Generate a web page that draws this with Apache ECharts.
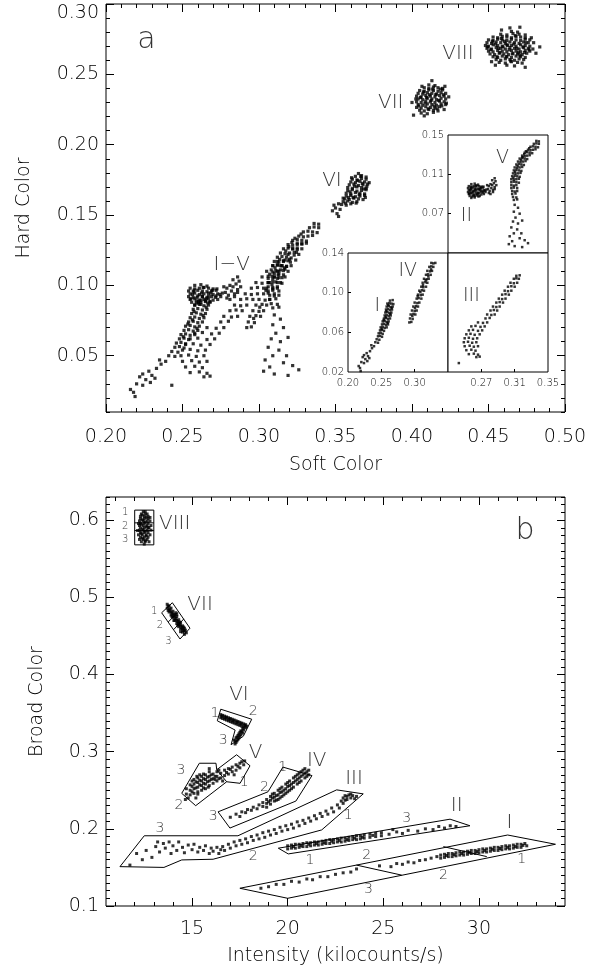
<!DOCTYPE html>
<html>
<head>
<meta charset="utf-8">
<script src="https://cdn.jsdelivr.net/npm/echarts@6/dist/echarts.min.js"></script>
<style>
  html, body { margin: 0; padding: 0; background: #fff; }
  #chart { width: 603px; height: 974px; }
</style>
</head>
<body>
<div id="chart"></div>
<script>
// ---------- panel a: hard colour vs soft colour, one list per state ----------
const aI = [
[0.263,0.092],[0.267,0.0925],
[0.259,0.089],[0.262,0.0895],[0.265,0.089],[0.268,0.0885],
[0.258,0.086],[0.261,0.0865],[0.264,0.0855],[0.267,0.086],
[0.257,0.083],[0.260,0.0835],[0.263,0.0825],[0.266,0.083],
[0.256,0.080],[0.259,0.0805],[0.262,0.0795],[0.265,0.080],
[0.255,0.077],[0.258,0.0775],[0.261,0.0765],[0.264,0.077],
[0.254,0.074],[0.257,0.0745],[0.260,0.0735],[0.263,0.074],
[0.252,0.071],[0.255,0.0715],[0.258,0.0705],[0.261,0.071],
[0.251,0.068],[0.254,0.0685],[0.257,0.0675],[0.260,0.068],
[0.249,0.065],[0.252,0.0655],[0.255,0.0645],[0.258,0.065],
[0.248,0.062],[0.251,0.0625],[0.254,0.0615],
[0.246,0.059],[0.249,0.0595],[0.252,0.0585],
[0.245,0.056],[0.248,0.0565],[0.251,0.0555],
[0.243,0.053],[0.247,0.0525],[0.241,0.050],[0.245,0.0495],
[0.2605,0.0875],[0.2575,0.0815],[0.2635,0.0785],[0.2535,0.0725],[0.2595,0.0695],[0.2505,0.0635],[0.2655,0.0845],[0.2565,0.0755],
[0.239,0.046],[0.236,0.044],[0.233,0.041],[0.235,0.047],[0.230,0.036],[0.228,0.039],[0.226,0.033],[0.224,0.029],
[0.222,0.035],[0.220,0.030],[0.218,0.024],[0.216,0.026],[0.219,0.021],[0.224,0.037],[0.229,0.031],[0.232,0.034]
];
const aII = [
[0.258,0.100],[0.262,0.1005],[0.266,0.0995],
[0.255,0.098],[0.258,0.0975],[0.261,0.098],[0.264,0.0985],[0.267,0.098],[0.270,0.0975],
[0.254,0.096],[0.257,0.0955],[0.260,0.0965],[0.263,0.096],[0.266,0.0955],[0.269,0.096],[0.272,0.0965],
[0.255,0.094],[0.258,0.0945],[0.261,0.0935],[0.264,0.094],[0.267,0.0945],[0.270,0.0935],[0.273,0.094],[0.276,0.0945],
[0.254,0.092],[0.257,0.0915],[0.260,0.0925],[0.263,0.092],[0.266,0.0915],[0.269,0.092],[0.272,0.0925],[0.275,0.092],
[0.255,0.090],[0.258,0.0905],[0.261,0.0895],[0.264,0.090],[0.267,0.0905],[0.270,0.0895],[0.273,0.090],
[0.256,0.088],[0.259,0.0875],[0.262,0.088],[0.265,0.0885],[0.268,0.088],
[0.258,0.086],[0.262,0.0865],
[0.2565,0.0935],[0.2595,0.0915],[0.2625,0.0945],[0.2655,0.0905],[0.2685,0.0945],[0.2715,0.0915],[0.2575,0.0965],
[0.2635,0.0985],[0.2695,0.0965],[0.2605,0.0885],[0.2665,0.0875],[0.2745,0.0935],[0.2555,0.0905],[0.2725,0.0975],
[0.278,0.095],[0.279,0.098],[0.280,0.093],[0.281,0.100],[0.282,0.096],[0.283,0.099],[0.284,0.094],[0.285,0.101],
[0.286,0.097],[0.287,0.103],[0.288,0.099],[0.281,0.090],[0.284,0.092],[0.286,0.095],[0.277,0.099],[0.279,0.091],
[0.283,0.104],[0.286,0.106]
];
const aIII = [
[0.243,0.029],
[0.266,0.070],[0.272,0.0695],[0.277,0.070],
[0.258,0.066],[0.263,0.0665],[0.269,0.0655],[0.274,0.066],
[0.255,0.062],[0.260,0.0625],[0.266,0.0615],[0.271,0.062],
[0.252,0.058],[0.257,0.0585],[0.262,0.0575],[0.268,0.058],
[0.250,0.054],[0.255,0.0545],[0.260,0.0535],[0.265,0.054],
[0.249,0.050],[0.254,0.0505],[0.259,0.0495],[0.264,0.050],
[0.250,0.046],[0.256,0.0465],[0.261,0.0455],[0.266,0.046],
[0.252,0.042],[0.258,0.0425],[0.263,0.0415],
[0.255,0.038],[0.261,0.0385],[0.266,0.0375],
[0.264,0.035],[0.268,0.0355],
[0.275,0.074],[0.280,0.0745],
[0.277,0.078],[0.282,0.0775],[0.286,0.078],
[0.281,0.082],[0.285,0.0825],[0.289,0.082],
[0.284,0.086],[0.288,0.0855],[0.292,0.086],
[0.288,0.090],[0.292,0.0905],[0.296,0.090],
[0.291,0.094],[0.295,0.0935],[0.299,0.094],
[0.295,0.098],[0.299,0.0985],[0.303,0.098],
[0.298,0.102],[0.302,0.1015],[0.306,0.102],
[0.302,0.106],[0.306,0.1065],[0.310,0.106],
[0.305,0.110],[0.309,0.1095],[0.313,0.110],
[0.309,0.114],[0.312,0.1145],[0.315,0.114],
[0.312,0.117],[0.316,0.1175]
];
const aIV = [
[0.292,0.070],[0.295,0.0705],
[0.293,0.074],[0.297,0.0735],
[0.294,0.078],[0.298,0.0785],[0.301,0.078],
[0.296,0.082],[0.300,0.0815],[0.303,0.082],
[0.298,0.086],[0.302,0.0865],[0.305,0.086],
[0.300,0.090],[0.304,0.0895],[0.307,0.090],
[0.303,0.094],[0.306,0.0945],[0.310,0.094],
[0.305,0.098],[0.309,0.0975],[0.312,0.098],
[0.307,0.102],[0.311,0.1025],[0.314,0.102],
[0.310,0.106],[0.313,0.1055],[0.317,0.106],
[0.312,0.110],[0.316,0.1105],[0.319,0.110],
[0.314,0.114],[0.318,0.1135],[0.321,0.114],
[0.317,0.118],[0.320,0.1185],[0.324,0.118],
[0.319,0.122],[0.323,0.1215],[0.326,0.122],
[0.322,0.126],[0.325,0.1265],[0.328,0.126],
[0.325,0.130],[0.328,0.1295],[0.331,0.130],
[0.3045,0.0965],[0.3085,0.1005],[0.3125,0.1075],[0.3165,0.1125],[0.3205,0.1165],[0.3245,0.1235],[0.3005,0.0845],[0.2965,0.0765]
];
const aV = [
[0.336,0.144],[0.339,0.1435],
[0.333,0.141],[0.336,0.1415],[0.339,0.141],
[0.329,0.138],[0.332,0.1385],[0.335,0.138],[0.338,0.1375],
[0.326,0.135],[0.329,0.1345],[0.332,0.135],[0.335,0.1355],
[0.322,0.132],[0.325,0.1325],[0.328,0.132],[0.331,0.1315],
[0.319,0.129],[0.322,0.1285],[0.325,0.129],[0.328,0.1295],
[0.316,0.126],[0.319,0.1265],[0.322,0.126],[0.325,0.1255],
[0.314,0.123],[0.317,0.1225],[0.320,0.123],[0.323,0.1235],
[0.312,0.120],[0.315,0.1205],[0.318,0.120],[0.321,0.1195],
[0.310,0.117],[0.313,0.1165],[0.316,0.117],[0.319,0.1175],
[0.309,0.114],[0.312,0.1145],[0.315,0.114],[0.318,0.1135],
[0.308,0.111],[0.311,0.1105],[0.314,0.111],[0.317,0.1115],
[0.307,0.108],[0.310,0.1085],[0.313,0.108],[0.316,0.1075],
[0.306,0.105],[0.309,0.1045],[0.312,0.105],[0.315,0.1055],
[0.306,0.102],[0.309,0.1025],[0.312,0.102],[0.315,0.1015],
[0.306,0.099],[0.309,0.0985],[0.312,0.099],
[0.306,0.096],[0.309,0.0965],[0.313,0.096],
[0.307,0.093],[0.310,0.0925],[0.313,0.093],
[0.307,0.090],[0.311,0.0905],
[0.308,0.087],[0.312,0.0865],
[0.3275,0.1365],[0.3215,0.1305],[0.3175,0.1245],[0.3135,0.1185],[0.3105,0.1125],[0.3085,0.1065],[0.3235,0.1335],[0.3195,0.1275],
[0.309,0.084],[0.313,0.0845],[0.310,0.079],[0.314,0.076],[0.309,0.072],[0.316,0.070],[0.311,0.066],[0.308,0.062],
[0.314,0.060],[0.319,0.063],[0.306,0.056],[0.313,0.054],[0.318,0.050],[0.309,0.050],[0.304,0.047],[0.316,0.045],
[0.322,0.043],[0.307,0.042],[0.303,0.039],[0.326,0.040],[0.310,0.037],[0.319,0.036]
];
const aVI = [
[0.365,0.1795],
[0.363,0.1775],[0.367,0.178],[0.370,0.177],
[0.361,0.1755],[0.364,0.175],[0.367,0.176],[0.370,0.1755],
[0.360,0.1735],[0.363,0.173],[0.366,0.174],[0.369,0.1735],[0.372,0.173],
[0.359,0.1715],[0.362,0.172],[0.365,0.171],[0.368,0.1715],[0.371,0.172],
[0.358,0.1695],[0.361,0.169],[0.364,0.170],[0.367,0.1695],[0.370,0.169],
[0.358,0.1675],[0.361,0.168],[0.364,0.167],[0.367,0.1675],[0.370,0.168],
[0.357,0.1655],[0.360,0.165],[0.363,0.166],[0.366,0.1655],[0.369,0.165],
[0.357,0.1635],[0.360,0.164],[0.363,0.163],[0.366,0.1635],[0.369,0.164],
[0.356,0.1615],[0.359,0.161],[0.362,0.162],[0.365,0.1615],[0.368,0.161],
[0.355,0.1595],[0.358,0.160],[0.361,0.159],[0.364,0.1595],
[0.354,0.1575],[0.357,0.157],[0.360,0.158],
[0.3595,0.1665],[0.3625,0.1705],[0.3655,0.1645],[0.3685,0.1685],[0.3615,0.1625],[0.3645,0.1745],[0.3675,0.1725],
[0.3705,0.1705],[0.3585,0.1625],[0.3565,0.1585],[0.3635,0.1585],[0.3695,0.1625],[0.3665,0.1775],[0.3605,0.1765],
[0.352,0.158],[0.350,0.155],[0.351,0.151],[0.348,0.153],[0.349,0.157],[0.353,0.154],[0.352,0.149],[0.355,0.162]
];
const aVII = [
[0.411,0.2425],[0.415,0.242],
[0.408,0.2405],[0.411,0.240],[0.414,0.241],[0.417,0.2405],[0.420,0.240],
[0.405,0.2385],[0.408,0.238],[0.411,0.239],[0.414,0.2385],[0.417,0.238],[0.420,0.239],
[0.404,0.2365],[0.407,0.236],[0.410,0.237],[0.413,0.2365],[0.416,0.236],[0.419,0.237],[0.422,0.2365],
[0.403,0.2345],[0.406,0.234],[0.409,0.235],[0.412,0.2345],[0.415,0.234],[0.418,0.235],[0.421,0.2345],
[0.404,0.2325],[0.407,0.232],[0.410,0.233],[0.413,0.2325],[0.416,0.232],[0.419,0.233],[0.422,0.2325],
[0.403,0.2305],[0.406,0.230],[0.409,0.231],[0.412,0.2305],[0.415,0.230],[0.418,0.231],[0.421,0.2305],
[0.404,0.2285],[0.407,0.228],[0.410,0.229],[0.413,0.2285],[0.416,0.228],[0.419,0.229],[0.422,0.2285],
[0.403,0.2265],[0.406,0.226],[0.409,0.227],[0.412,0.2265],[0.415,0.226],[0.418,0.227],
[0.405,0.2245],[0.408,0.224],[0.411,0.225],[0.414,0.2245],[0.417,0.224],
[0.406,0.2225],[0.410,0.222],[0.414,0.223],
[0.4055,0.2335],[0.4085,0.2295],[0.4115,0.2355],[0.4145,0.2275],[0.4175,0.2315],[0.4205,0.2355],[0.4075,0.2375],
[0.4135,0.2395],[0.4195,0.2275],[0.4045,0.2275],[0.4105,0.2255],[0.4165,0.2255],[0.4125,0.2315],[0.4155,0.2355],
[0.4095,0.2335],[0.4185,0.2395],[0.4225,0.2295],[0.4025,0.2325],[0.4215,0.2415],[0.4065,0.2415],
[0.401,0.221],[0.413,0.2455],[0.424,0.234],[0.400,0.230],[0.421,0.225],[0.408,0.2205]
];
const aVIII = [
[0.465,0.2805],[0.469,0.280],
[0.458,0.2785],[0.462,0.278],[0.466,0.279],[0.470,0.2785],[0.474,0.278],
[0.453,0.2765],[0.456,0.276],[0.459,0.277],[0.462,0.2765],[0.465,0.276],[0.468,0.277],[0.471,0.2765],[0.474,0.276],
[0.450,0.2745],[0.453,0.274],[0.456,0.275],[0.459,0.2745],[0.462,0.274],[0.465,0.275],[0.468,0.2745],[0.471,0.274],[0.474,0.275],[0.477,0.2745],
[0.449,0.2725],[0.452,0.272],[0.455,0.273],[0.458,0.2725],[0.461,0.272],[0.464,0.273],[0.467,0.2725],[0.470,0.272],[0.473,0.273],[0.476,0.2725],
[0.448,0.2705],[0.450,0.270],[0.453,0.271],[0.456,0.2705],[0.459,0.270],[0.462,0.271],[0.465,0.2705],[0.468,0.270],[0.471,0.271],[0.474,0.2705],[0.477,0.270],
[0.449,0.2685],[0.452,0.268],[0.455,0.269],[0.458,0.2685],[0.461,0.268],[0.464,0.269],[0.467,0.2685],[0.470,0.268],[0.473,0.269],[0.476,0.2685],[0.479,0.268],
[0.450,0.2665],[0.453,0.266],[0.456,0.267],[0.459,0.2665],[0.462,0.266],[0.465,0.267],[0.468,0.2665],[0.471,0.266],[0.474,0.267],[0.477,0.2665],
[0.451,0.2645],[0.454,0.264],[0.457,0.265],[0.460,0.2645],[0.463,0.264],[0.466,0.265],[0.469,0.2645],[0.472,0.264],[0.475,0.265],
[0.453,0.2625],[0.456,0.262],[0.459,0.263],[0.462,0.2625],[0.465,0.262],[0.468,0.263],[0.471,0.2625],[0.474,0.262],
[0.455,0.2605],[0.458,0.260],[0.461,0.261],[0.464,0.2605],[0.467,0.260],[0.470,0.261],[0.473,0.2605],
[0.457,0.2585],[0.461,0.258],[0.465,0.259],[0.469,0.2585],[0.472,0.258],
[0.462,0.2565],[0.467,0.256],
[0.4515,0.2675],[0.4545,0.2715],[0.4575,0.2655],[0.4605,0.2735],[0.4635,0.2675],[0.4665,0.2715],[0.4695,0.2655],
[0.4725,0.2695],[0.4555,0.2625],[0.4645,0.2595],[0.4705,0.2635],[0.4585,0.2755],[0.4675,0.2775],[0.4745,0.2725],
[0.4495,0.2695],[0.4525,0.2735],[0.4615,0.2625],[0.4765,0.2675],[0.4595,0.2695],[0.4685,0.2685],[0.4625,0.2705],
[0.4655,0.2645],[0.4565,0.2685],[0.4735,0.2655],[0.4795,0.2725],[0.4835,0.2695],[0.4585,0.2815],
[0.4705,0.2835],[0.4545,0.2565],
[0.481,0.265],[0.464,0.283],[0.474,0.255],[0.478,0.276],[0.452,0.259]
];

// ---------- panel b: broad colour vs intensity (kilocounts/s) ----------
const bI = [
[18.6,0.123],[19.0,0.125],[19.4,0.128],[19.8,0.128],[20.2,0.132],[20.6,0.131],[21.0,0.135],[21.3,0.134],[21.7,0.138],[22.1,0.138],
[22.5,0.141],[22.9,0.143],[23.3,0.144],[23.6,0.148],
[24.8,0.152],[25.4,0.151],[25.7,0.155],[26.0,0.154],[26.3,0.157],[26.6,0.156],[26.9,0.159],[27.2,0.160],[27.5,0.162],[27.8,0.164],
[28.0,0.162],[28.0,0.166],[28.2,0.163],[28.2,0.167],[28.4,0.164],[28.4,0.168],[28.6,0.164],[28.6,0.168],[28.8,0.165],[28.8,0.169],
[29.0,0.166],[29.0,0.170],[29.2,0.166],[29.2,0.170],[29.4,0.167],[29.4,0.171],[29.6,0.168],[29.6,0.172],[29.8,0.168],[29.8,0.172],
[30.0,0.169],[30.0,0.173],[30.2,0.170],[30.2,0.174],[30.4,0.170],[30.4,0.174],[30.6,0.171],[30.6,0.175],[30.8,0.172],[30.8,0.176],
[31.0,0.172],[31.0,0.176],[31.2,0.173],[31.2,0.177],[31.4,0.174],[31.4,0.178],[31.6,0.174],[31.6,0.178],[31.8,0.175],[31.8,0.179],
[32.0,0.176],[32.0,0.180],[32.2,0.176],[32.2,0.180],[32.5,0.178],[32.4,0.181],
[28.3,0.1655],[28.7,0.1665],[29.1,0.168],[29.5,0.1695],[29.9,0.1705],[30.3,0.172],[30.7,0.1735],[31.1,0.1745],[31.5,0.176],[31.9,0.177],[32.3,0.1785]
];
const bII = [
[20.0,0.174],[20.0,0.178],[20.2,0.175],[20.2,0.179],[20.4,0.175],[20.4,0.180],[20.6,0.176],[20.6,0.180],[20.8,0.177],[20.8,0.181],
[21.0,0.177],[21.0,0.182],[21.2,0.178],[21.2,0.182],[21.4,0.179],[21.4,0.183],[21.6,0.179],[21.6,0.183],[21.8,0.180],[21.8,0.184],
[22.0,0.181],[22.0,0.185],[22.2,0.181],[22.2,0.186],[22.4,0.182],[22.4,0.186],[22.6,0.183],[22.6,0.187],[22.8,0.183],[22.8,0.188],
[23.0,0.184],[23.0,0.188],[23.2,0.185],[23.2,0.189],[23.4,0.186],[23.4,0.190],[23.6,0.186],[23.6,0.191],[23.8,0.187],[23.8,0.191],
[24.0,0.188],[24.0,0.192],[24.3,0.189],[24.3,0.193],[24.6,0.190],[24.6,0.194],[24.9,0.191],[24.9,0.195],
[20.3,0.177],[20.7,0.178],[21.1,0.180],[21.5,0.181],[21.9,0.182],[22.3,0.184],[22.7,0.185],[23.1,0.186],[23.5,0.188],[23.9,0.189],[24.45,0.1915],
[25.3,0.193],[25.5,0.199],[25.7,0.196],[26.0,0.194],[26.3,0.198],[26.8,0.197],[27.2,0.200],[27.6,0.199],[27.9,0.203],[28.2,0.201],
[28.5,0.204],[28.8,0.203]
];
const bIII = [
[11.75,0.153],[12.1,0.168],[12.4,0.160],[12.6,0.172],[12.9,0.163],[13.1,0.177],[13.2,0.183],[13.3,0.170],[13.5,0.181],[13.6,0.175],
[13.8,0.183],[13.9,0.168],[14.0,0.178],[14.2,0.172],[14.3,0.183],[14.5,0.176],[14.6,0.169],[14.8,0.179],[15.0,0.173],[15.1,0.180],
[15.3,0.170],[15.4,0.176],[15.6,0.172],[15.7,0.178],[15.9,0.168],[16.0,0.175],[16.1,0.171],[16.3,0.176],[16.4,0.168],[16.5,0.173],
[16.6,0.177],[16.7,0.172],[16.9,0.180],[17.0,0.175],[17.2,0.183],[17.3,0.178],[17.5,0.185],[17.6,0.180],[17.8,0.187],[17.9,0.182],
[18.1,0.190],[18.2,0.185],[18.4,0.192],[18.5,0.187],[18.7,0.195],[18.8,0.189],[19.0,0.197],[19.1,0.192],[19.3,0.199],[19.4,0.194],
[19.6,0.202],[19.7,0.197],[19.9,0.204],[20.0,0.199],[20.2,0.206],[20.3,0.201],[20.5,0.209],
[20.6,0.204],[20.8,0.211],[20.9,0.207],[21.1,0.214],[21.2,0.210],[21.4,0.217],[21.5,0.213],[21.7,0.220],[21.8,0.216],[22.0,0.223],
[22.1,0.219],[22.3,0.227],[22.4,0.222],[22.6,0.231],[22.7,0.227],[22.8,0.236],[22.9,0.233],[22.9,0.240],[23.0,0.237],[23.1,0.242],
[23.1,0.238],[23.2,0.244],[23.3,0.240],[23.4,0.243],[23.5,0.239],[23.6,0.242],[23.3,0.245],[23.0,0.243]
];
const bIV = [
[17.0,0.215],[17.3,0.219],[17.5,0.216],[17.6,0.222],[17.8,0.221],[17.9,0.225],[18.1,0.224],[18.2,0.228],[18.4,0.226],[18.5,0.231],
[18.7,0.229],[18.7,0.234],[18.9,0.228],[18.9,0.233],[18.9,0.238],[19.1,0.232],[19.1,0.237],[19.1,0.242],[19.3,0.236],[19.3,0.241],
[19.3,0.246],[19.5,0.238],[19.5,0.244],[19.5,0.250],[19.7,0.242],[19.7,0.248],[19.7,0.254],[19.9,0.246],[19.9,0.252],[19.9,0.258],
[20.1,0.250],[20.1,0.256],[20.1,0.262],[20.3,0.254],[20.3,0.260],[20.3,0.266],[20.5,0.258],[20.5,0.264],[20.5,0.270],[20.7,0.262],
[20.7,0.268],[20.7,0.274],[20.9,0.266],[20.9,0.272],[20.9,0.278],[21.1,0.270],[21.1,0.276],
[19.2,0.240],[19.6,0.247],[20.0,0.255],[20.4,0.262],[20.8,0.270],[20.6,0.266],[20.2,0.258],[19.8,0.250],[19.4,0.243],
[19.0,0.235],[19.2,0.245],[19.4,0.237],[19.6,0.252],[19.8,0.244],[20.0,0.260],[20.2,0.252],[20.4,0.268],[20.6,0.260],[20.8,0.276],
[21.0,0.268],[21.0,0.274],[20.6,0.272],[20.0,0.248],[19.6,0.240]
];
const bV = [
[14.7,0.245],[14.7,0.252],[14.9,0.244],[14.9,0.250],[14.9,0.257],[15.1,0.246],[15.1,0.252],[15.1,0.258],[15.1,0.264],
[15.3,0.248],[15.3,0.254],[15.3,0.260],[15.3,0.266],[15.5,0.250],[15.5,0.256],[15.5,0.262],[15.5,0.268],
[15.7,0.252],[15.7,0.258],[15.7,0.264],[15.7,0.270],[15.9,0.256],[15.9,0.262],[15.9,0.268],[15.9,0.274],
[16.1,0.259],[16.1,0.265],[16.1,0.271],[16.3,0.262],[16.3,0.268],[16.3,0.274],[16.5,0.266],[16.5,0.272],
[16.7,0.269],[16.7,0.276],[16.9,0.271],[16.9,0.278],[17.1,0.274],[17.1,0.280],[17.3,0.276],[17.3,0.283],
[17.5,0.279],[17.5,0.285],[17.7,0.283],[17.75,0.288],
[15.0,0.248],[15.2,0.261],[15.4,0.257],[15.6,0.265],[15.8,0.261],[16.0,0.270],[16.2,0.264],[15.4,0.270],[15.6,0.253],[15.0,0.262],
[15.2,0.253],[15.4,0.263],[15.6,0.259],[15.8,0.267],[16.0,0.264],[16.2,0.268],[15.0,0.255],[15.3,0.245],[15.6,0.271],[15.9,0.278],
[16.4,0.276],[16.4,0.265],[16.8,0.273],[17.0,0.277],[17.4,0.281],[17.6,0.287],[15.25,0.268],[15.85,0.254],
[14.65,0.238],[14.8,0.240],[15.2,0.240],[16.6,0.262],[17.2,0.270]
];
const bVI = [
[16.5,0.348],[16.5,0.344],[16.6,0.347],[16.6,0.343],[16.7,0.346],[16.7,0.342],[16.8,0.345],[16.8,0.341],[16.9,0.344],[16.9,0.340],
[17.0,0.343],[17.0,0.339],[17.1,0.342],[17.1,0.338],[17.2,0.341],[17.2,0.337],[17.3,0.340],[17.3,0.336],[17.4,0.339],[17.4,0.335],
[17.5,0.338],[17.5,0.334],[17.6,0.337],[17.6,0.333],[17.7,0.336],[17.7,0.332],[17.8,0.335],[17.8,0.331],
[16.55,0.346],[16.75,0.344],[16.95,0.342],[17.15,0.340],[17.35,0.338],[17.55,0.336],[17.75,0.334],[17.85,0.333],
[17.7,0.328],[17.6,0.326],[17.65,0.324],[17.55,0.322],[17.5,0.320],[17.45,0.318],[17.4,0.316],[17.35,0.314],[17.3,0.312],[17.25,0.310],
[17.5,0.325],[17.4,0.321],[17.3,0.318],[17.2,0.315],[17.65,0.330],[17.55,0.327],[17.45,0.323],[17.35,0.319],[17.25,0.314]
];
const bVII = [
[13.7,0.486],[13.7,0.491],[13.8,0.481],[13.8,0.485],[13.8,0.489],[13.9,0.477],[13.9,0.481],[13.9,0.486],[14.0,0.474],[14.0,0.478],
[14.0,0.482],[14.1,0.470],[14.1,0.474],[14.1,0.478],[14.2,0.466],[14.2,0.470],[14.2,0.475],[14.3,0.462],[14.3,0.466],[14.3,0.471],
[14.4,0.459],[14.4,0.463],[14.4,0.467],[14.5,0.455],[14.5,0.459],[14.5,0.463],[14.6,0.452],[14.6,0.456],[14.6,0.460],[14.7,0.454],
[13.75,0.483],[13.95,0.475],[14.15,0.480],[14.35,0.468],[14.55,0.457],[14.05,0.470],[14.25,0.464],
[13.85,0.4835],[13.95,0.4795],[14.05,0.4765],[14.15,0.4725],[14.25,0.4685],[14.35,0.4645],[14.45,0.4605],[14.55,0.4615],
[14.65,0.4575],[13.75,0.4885],[14.2,0.4775],[14.4,0.4555]
];
const bVIII = [
[12.45,0.611],[12.55,0.611],[12.35,0.608],[12.55,0.608],[12.65,0.608],[12.3,0.605],[12.5,0.605],[12.7,0.605],
[12.3,0.602],[12.5,0.602],[12.7,0.602],[12.25,0.599],[12.45,0.599],[12.65,0.599],[12.8,0.599],
[12.3,0.596],[12.5,0.596],[12.7,0.596],[12.25,0.593],[12.45,0.593],[12.65,0.593],[12.85,0.593],
[12.3,0.590],[12.5,0.590],[12.7,0.590],[12.25,0.587],[12.45,0.587],[12.65,0.587],[12.85,0.587],
[12.3,0.584],[12.5,0.584],[12.7,0.584],[12.2,0.581],[12.4,0.581],[12.6,0.581],[12.8,0.581],
[12.3,0.578],[12.5,0.578],[12.7,0.578],[12.25,0.575],[12.45,0.575],[12.65,0.575],
[12.35,0.572],[12.55,0.572],[12.75,0.572],[12.5,0.569],
[12.4,0.6065],[12.6,0.6035],[12.4,0.6005],[12.55,0.5975],[12.35,0.5945],[12.6,0.5915],[12.4,0.5885],[12.55,0.5855],
[12.35,0.5825],[12.6,0.5795],[12.4,0.5765],[12.55,0.5735],[12.75,0.5905],[12.2,0.5955],[12.8,0.6035],[12.15,0.5865]
];

// selection boxes in panel b (intensity, broad colour) and their section cuts
const boxVIII = [[12.0,0.568],[13.0,0.568],[13.0,0.613],[12.0,0.613],[12.0,0.568]];
const cutsVIII = [[[12.0,0.5965],[13.0,0.5965]], [[12.0,0.5865],[13.0,0.5865]]];
const boxVII = [[13.41,0.480],[13.97,0.493],[14.89,0.460],[14.37,0.446],[13.41,0.480]];
const cutsVII = [[[13.75,0.468],[14.29,0.481]], [[14.03,0.458],[14.57,0.472]]];
const boxVI = [[16.50,0.355],[18.12,0.342],[17.68,0.320],[17.04,0.309],[17.25,0.328],[16.32,0.340],[16.50,0.355]];
const boxV = [[15.38,0.285],[16.25,0.285],[16.29,0.2765],[16.81,0.261],[15.19,0.230],[14.46,0.246],[15.38,0.285]];
const boxV1 = [[16.29,0.2765],[17.33,0.296],[18.03,0.2817],[17.51,0.259],[16.81,0.261]];
const boxIV = [[16.36,0.222],[18.97,0.248],[19.75,0.280],[21.27,0.269],[20.43,0.236],[16.98,0.201],[16.36,0.222]];
const boxIII = [[11.23,0.151],[12.5,0.191],[17.4,0.191],[22.56,0.2505],[23.95,0.2453],[21.78,0.1986],[16.1,0.1606],[14.46,0.1597],[13.53,0.150],[11.23,0.151]];
const boxII = [[19.51,0.1749],[28.49,0.2125],[29.53,0.204],[20.03,0.1675],[19.51,0.1749]];
const boxI = [[17.5,0.123],[31.5,0.192],[34.0,0.180],[20.0,0.110],[17.5,0.123]];
const cutsI = [[[23.6,0.153],[25.96,0.140]], [[28.14,0.177],[30.41,0.164]]];

// text placed in data units
const aStateNames = [[0.4300,0.2644,'VIII'],[0.3861,0.2300,'VII'],[0.3477,0.1743,'VI'],[0.2822,0.1147,'I\u2212V']];
const aPanelTag = [[0.2265,0.2740,'a']];
const urNames = [[0.2521,0.0671,'II'],[0.2953,0.1261,'V']];
const llNames = [[0.2896,0.1214,'IV'],[0.2441,0.0862,'I']];
const lrNames = [[0.2581,0.0962,'III']];
const bStateNames = [[14.09,0.5957,'VIII'],[15.42,0.490,'VII'],[17.45,0.374,'VI'],[18.32,0.299,'V'],[21.52,0.2886,'IV'],[23.47,0.2648,'III'],[28.84,0.2304,'II'],[31.59,0.2084,'I']];
const bPanelTag = [[32.41,0.5853,'b']];
const sectionSmall = [[11.5,0.6096,'1'],[11.5,0.592,'2'],[11.5,0.575,'3'],[13.02,0.482,'1'],[13.32,0.463,'2'],[13.76,0.443,'3']];
const sectionNums = [
  [16.20,0.350,'1'],[18.2,0.352,'2'],[16.63,0.315,'3'],
  [14.42,0.2756,'3'],[14.32,0.231,'2'],[17.72,0.2605,'1'],
  [19.74,0.280,'1'],[18.78,0.254,'2'],[16.11,0.216,'3'],
  [13.32,0.2008,'3'],[18.2,0.164,'2'],[23.17,0.218,'1'],
  [21.17,0.1597,'1'],[24.13,0.166,'2'],[26.22,0.2138,'3'],
  [32.24,0.160,'1'],[28.14,0.140,'2'],[24.22,0.121,'3']
];

// axis tick values
const aSoftLabels = [0.20,0.25,0.30,0.35,0.40,0.45,0.50];
const aHardLabels = [0.05,0.10,0.15,0.20,0.25,0.30];
const llSoftLabels = [0.20,0.25,0.30];
const llHardLabels = [0.02,0.06,0.10,0.14];
const lrSoftLabels = [0.27,0.31,0.35];
const urHardLabels = [0.07,0.11,0.15];
const bIntensityLabels = [15,20,25,30];
const bBroadLabels = [0.1,0.2,0.3,0.4,0.5,0.6];

function steps(from, to, step) {
  const out = [];
  const n = Math.round((to - from) / step);
  for (let i = 0; i <= n; i++) out.push(Math.round((from + i * step) * 1e4) / 1e4);
  return out;
}

const FONT = "'DejaVu Sans', 'Noto Sans', sans-serif";
const WEIGHT = 200;
const INK = '#000';

const xAxes = [], yAxes = [];

function tick(values, len) {
  return { show: true, inside: true, length: len, customValues: values, lineStyle: { color: INK, width: 1 } };
}
function label(values, fmt, margin, fs, extra) {
  return Object.assign({ show: values.length > 0, customValues: values, formatter: fmt, margin: margin,
    fontSize: fs, fontFamily: FONT, fontWeight: WEIGHT, color: INK }, extra || {});
}
function base(g, min, max) {
  return { gridIndex: g, type: 'value', min: min, max: max, splitLine: { show: false }, axisLine: { show: false } };
}
function nameStyle(fs) {
  return { fontSize: fs, fontFamily: FONT, fontWeight: WEIGHT, color: INK };
}

// one plot frame: labelled bottom/left axes, optional mirrored ticks and minor ticks
function frame(g, o) {
  const xi = xAxes.length, yi = yAxes.length;
  xAxes.push(Object.assign(base(g, o.xMin, o.xMax), {
    position: 'bottom', axisTick: tick(o.xMajor, o.majorLen),
    axisLabel: label(o.xLabels || [], o.xFmt, o.xMargin, o.fs),
    name: o.xName || '', nameLocation: 'middle', nameGap: o.xNameGap || 0, nameTextStyle: nameStyle(o.nameFs || o.fs)
  }));
  yAxes.push(Object.assign(base(g, o.yMin, o.yMax), {
    position: 'left', axisTick: tick(o.yMajor, o.majorLen),
    axisLabel: label(o.yLabels || [], o.yFmt, o.yMargin, o.fs, o.yLabelExtra),
    name: o.yName || '', nameLocation: 'middle', nameGap: o.yNameGap || 0, nameTextStyle: nameStyle(o.nameFs || o.fs)
  }));
  const plain = { show: false };
  if (o.xMinor) {
    xAxes.push(Object.assign(base(g, o.xMin, o.xMax), { position: 'bottom', axisTick: tick(o.xMinor, o.minorLen), axisLabel: plain }));
    yAxes.push(Object.assign(base(g, o.yMin, o.yMax), { position: 'left', axisTick: tick(o.yMinor, o.minorLen), axisLabel: plain }));
  }
  if (o.mirror) {
    xAxes.push(Object.assign(base(g, o.xMin, o.xMax), { position: 'top', axisTick: tick(o.xMajor, o.majorLen), axisLabel: plain }));
    xAxes.push(Object.assign(base(g, o.xMin, o.xMax), { position: 'top', axisTick: tick(o.xMinor, o.minorLen), axisLabel: plain }));
    yAxes.push(Object.assign(base(g, o.yMin, o.yMax), { position: 'right', axisTick: tick(o.yMajor, o.majorLen), axisLabel: plain }));
    yAxes.push(Object.assign(base(g, o.yMin, o.yMax), { position: 'right', axisTick: tick(o.yMinor, o.minorLen), axisLabel: plain }));
  }
  return { x: xi, y: yi };
}

const grids = [
  { left: 106, top: 4, width: 459, height: 408, show: true, borderColor: INK, borderWidth: 1, backgroundColor: 'transparent' },
  { left: 448, top: 135, width: 100, height: 118, show: true, borderColor: INK, borderWidth: 1, backgroundColor: '#fff' },
  { left: 348, top: 253, width: 100, height: 119, show: true, borderColor: INK, borderWidth: 1, backgroundColor: '#fff' },
  { left: 448, top: 253, width: 100, height: 119, show: true, borderColor: INK, borderWidth: 1, backgroundColor: '#fff' },
  { left: 106, top: 497, width: 459, height: 409, show: true, borderColor: INK, borderWidth: 1, backgroundColor: 'transparent' }
];

const fa = frame(0, {
  xMin: 0.20, xMax: 0.50, yMin: 0.01, yMax: 0.30,
  xMajor: aSoftLabels, yMajor: aHardLabels, xMinor: steps(0.20, 0.50, 0.01), yMinor: steps(0.01, 0.30, 0.01),
  majorLen: 8, minorLen: 4, mirror: true,
  xLabels: aSoftLabels, yLabels: aHardLabels, xFmt: v => v.toFixed(2), yFmt: v => v.toFixed(2),
  xMargin: 16, yMargin: 7, fs: 19, yLabelExtra: { verticalAlignMaxLabel: 'top' },
  xName: 'Soft Color', xNameGap: 44, yName: 'Hard Color', yNameGap: 72
});
const fur = frame(1, {
  xMin: 0.23, xMax: 0.35, yMin: 0.03, yMax: 0.15,
  xMajor: [], yMajor: [0.07, 0.11], majorLen: 3,
  yLabels: urHardLabels, yFmt: v => v.toFixed(2), yMargin: 4, fs: 10
});
const fll = frame(2, {
  xMin: 0.20, xMax: 0.35, yMin: 0.02, yMax: 0.14,
  xMajor: [0.25, 0.30], yMajor: [0.06, 0.10], majorLen: 3,
  xLabels: llSoftLabels, yLabels: llHardLabels, xFmt: v => v.toFixed(2), yFmt: v => v.toFixed(2),
  xMargin: 6, yMargin: 4, fs: 10
});
const flr = frame(3, {
  xMin: 0.23, xMax: 0.35, yMin: 0.02, yMax: 0.14,
  xMajor: [0.27, 0.31], yMajor: [], majorLen: 3,
  xLabels: lrSoftLabels, xFmt: v => v.toFixed(2), xMargin: 6, fs: 10
});
const fb = frame(4, {
  xMin: 10.5, xMax: 34.5, yMin: 0.10, yMax: 0.63,
  xMajor: bIntensityLabels, yMajor: bBroadLabels, xMinor: steps(11, 34, 1), yMinor: steps(0.10, 0.63, 0.01),
  majorLen: 8, minorLen: 4, mirror: true,
  xLabels: bIntensityLabels, yLabels: bBroadLabels, xFmt: v => String(v), yFmt: v => v.toFixed(1),
  xMargin: 14, yMargin: 7, fs: 19,
  xName: 'Intensity (kilocounts/s)', xNameGap: 41, yName: 'Broad Color', yNameGap: 59
});

function dots(data, f, size) {
  return { type: 'scatter', xAxisIndex: f.x, yAxisIndex: f.y, data: data, symbol: 'rect', symbolSize: size,
    itemStyle: { color: INK }, silent: true, z: 2 };
}
function words(items, f, fs) {
  return { type: 'scatter', xAxisIndex: f.x, yAxisIndex: f.y, symbolSize: 0, silent: true, z: 5,
    data: items.map(t => ({ value: [t[0], t[1]], name: t[2] })),
    label: { show: true, position: 'inside', formatter: '{b}', fontSize: fs, fontFamily: FONT, fontWeight: WEIGHT, color: INK } };
}
function path(points, f) {
  return { type: 'line', xAxisIndex: f.x, yAxisIndex: f.y, data: points, symbol: 'none', silent: true, z: 4,
    lineStyle: { color: INK, width: 1 } };
}

const series = [];
[aI, aII, aIII, aIV, aV, aVI, aVII, aVIII].forEach(d => series.push(dots(d, fa, 3.2)));
[aII, aV].forEach(d => series.push(dots(d, fur, 2.5)));
[aI, aIV].forEach(d => series.push(dots(d, fll, 2.5)));
series.push(dots(aIII, flr, 2.5));
[bI, bII, bIII, bIV, bV, bVI, bVII, bVIII].forEach(d => series.push(dots(d, fb, 3)));

[boxVIII, boxVII, boxVI, boxV, boxV1, boxIV, boxIII, boxII, boxI].forEach(p => series.push(path(p, fb)));
[].concat(cutsVIII, cutsVII, cutsI).forEach(p => series.push(path(p, fb)));

series.push(words(aStateNames, fa, 20));
series.push(words(aPanelTag, fa, 30));
series.push(words(urNames, fur, 19));
series.push(words(llNames, fll, 19));
series.push(words(lrNames, flr, 19));
series.push(words(bStateNames, fb, 20));
series.push(words(bPanelTag, fb, 30));
series.push(words(sectionSmall, fb, 10));
series.push(words(sectionNums, fb, 14));

const chart = echarts.init(document.getElementById('chart'), null, { renderer: 'canvas' });
chart.setOption({
  animation: false,
  backgroundColor: '#fff',
  grid: grids,
  xAxis: xAxes,
  yAxis: yAxes,
  series: series
});
</script>
</body>
</html>
